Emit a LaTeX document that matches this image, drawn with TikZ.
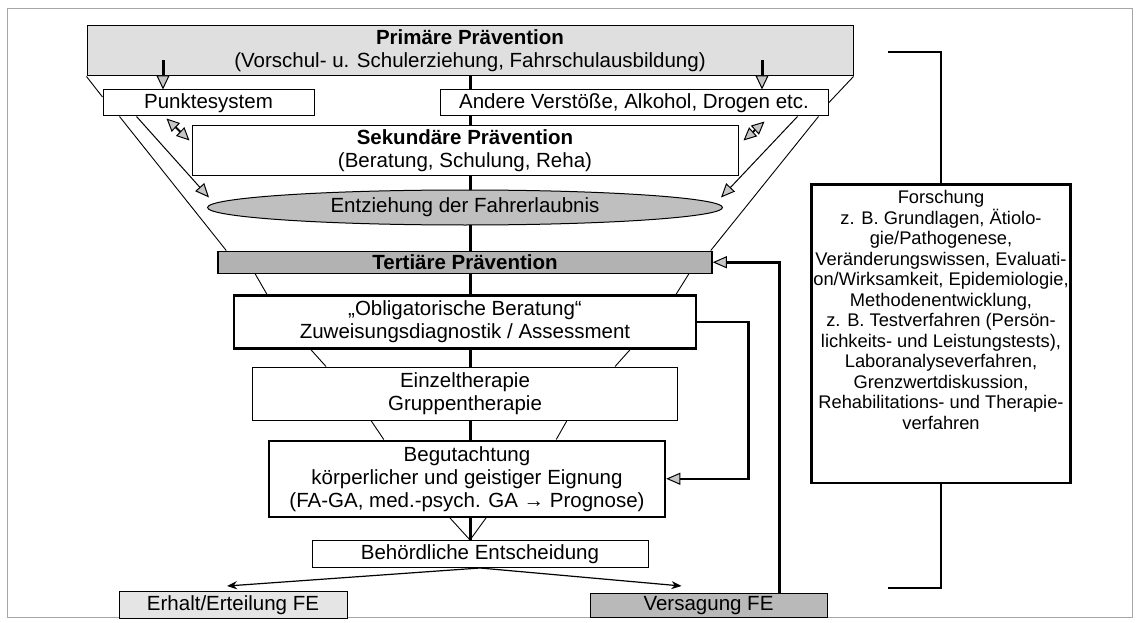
\documentclass[tikz,border=0pt]{standalone}
\usepackage{fontspec}
\setmainfont{Liberation Sans}
\usepackage{tikz}
\usetikzlibrary{shapes.geometric, arrows.meta, positioning, calc, backgrounds}
\newcommand{\boxfont}{\fontsize{20.5pt}{23pt}\selectfont}
\newcommand{\notefont}{\fontsize{18.3pt}{20.5pt}\selectfont}
\tikzstyle{plainbox} = [rectangle, draw=black, line width=1pt, fill=white, text centered, align=center, inner sep=2pt, font=\boxfont]
\tikzstyle{heavybox} = [plainbox, line width=2.5pt]
\tikzstyle{lightbox} = [plainbox, fill=gray!25]
\tikzstyle{darkbox} = [plainbox, fill=gray!60, line width=1.5pt]
\tikzstyle{oval} = [ellipse, draw=black, line width=1pt, fill=gray!50, inner sep=0pt, font=\boxfont]
\tikzstyle{funnel} = [line width=0.9pt]
\tikzstyle{axisline} = [line width=3pt]
\tikzstyle{garrow} = [line width=3pt, -{Triangle[length=14pt, width=13pt, fill=gray!45, line width=1pt]}]
\tikzstyle{dblarrow} = [line width=2pt, {Triangle[length=13pt, width=12pt, fill=gray!45, line width=1pt]}-{Triangle[length=13pt, width=12pt, fill=gray!45, line width=1pt]}]
\tikzstyle{ellarrow} = [line width=1pt, -{Triangle[length=14pt, width=12pt, fill=gray!45]}]
\tikzstyle{backarrow} = [line width=2.5pt, -{Triangle[length=14pt, width=12pt, fill=gray!45, line width=1pt]}]
\tikzstyle{decarrow} = [line width=1.2pt, -{Stealth[length=10pt, width=8pt]}]
\tikzstyle{bracket} = [line width=2.5pt]
\tikzstyle{frame} = [draw=gray!70, line width=0.8pt]

\begin{document}
\begin{tikzpicture}[x=1pt, y=-1pt]
    \useasboundingbox (0,0) rectangle (1138,623);
    \draw [frame] (7,8) rectangle (1132,617);

    \node (prim) [lightbox, minimum width=766pt, minimum height=50pt] at (470,51) {\textbf{Primäre Prävention}\\(Vorschul- u. Schulerziehung, Fahrschulausbildung)};
    \node (punkt) [plainbox, below=13pt of prim, xshift=-261.5pt, minimum width=211pt, minimum height=26pt] {Punktesystem};
    \node (andere) [plainbox, below=13pt of prim, xshift=164pt, minimum width=388pt, minimum height=26pt] {Andere Verstöße, Alkohol, Drogen etc.};
    \node (sek) [plainbox, below=49pt of prim, xshift=-5pt, minimum width=546pt, minimum height=49pt] {\textbf{Sekundäre Prävention}\\(Beratung, Schulung, Reha)};
    \node (ell) [oval, below=14pt of sek, minimum width=515pt, minimum height=35pt] {Entziehung der Fahrerlaubnis};
    \node (tert) [darkbox, below=25pt of ell, minimum width=494pt, minimum height=22pt] {\textbf{Tertiäre Prävention}};
    \node (oblig) [heavybox, below=20pt of tert, minimum width=462pt, minimum height=53pt] {„Obligatorische Beratung“\\Zuweisungsdiagnostik / Assessment};
    \node (einzel) [plainbox, below=17pt of oblig, minimum width=425pt, minimum height=53pt] {Einzeltherapie\\Gruppentherapie};
    \node (begut) [heavybox, below=19pt of einzel, xshift=2pt, minimum width=396pt, minimum height=76pt] {Begutachtung\\körperlicher und geistiger Eignung\\(FA-GA, med.-psych. GA → Prognose)};
    \node (behord) [plainbox, below=22pt of begut, xshift=13pt, minimum width=336pt, minimum height=27pt] {Behördliche Entscheidung};
    \node (erhalt) [plainbox, fill=gray!20, below=23pt of behord, xshift=-247pt, minimum width=228pt, minimum height=27pt] {Erhalt/Erteilung FE};
    \node (versag) [plainbox, fill=gray!55, below=25pt of behord, xshift=228.5pt, minimum width=237pt, minimum height=24pt] {Versagung FE};
    \node (forsch) [heavybox, font=\notefont, inner ysep=6pt, minimum width=258pt, anchor=north] at (941,183) {Forschung\\z. B. Grundlagen, Ätiolo-\\gie/Pathogenese,\\Veränderungswissen, Evaluati-\\on/Wirksamkeit, Epidemiologie,\\Methodenentwicklung,\\z. B. Testverfahren (Persön-\\lichkeits- und Leistungstests),\\Laboranalyseverfahren,\\Grenzwertdiskussion,\\Rehabilitations- und Therapie-\\verfahren\rule[-48pt]{0pt}{0pt}};

    \begin{scope}[on background layer]
        \draw [axisline] (prim.south) -- (prim.south |- behord.north);
    \end{scope}

    \coordinate (pdrop) at (163,60);
    \coordinate (adrop) at (762,60);
    \draw [garrow] (pdrop) -- (pdrop |- punkt.north);
    \draw [garrow] (adrop) -- (adrop |- andere.north);

    \draw [funnel] (prim.south west) -- ($(punkt.west)+(0,-6)$);
    \draw [funnel] (prim.south east) -- (andere.east);
    \draw [funnel] ($(punkt.south west)+(17,0)$) -- ($(tert.north west)+(9,0)$);
    \draw [funnel] ($(andere.south east)+(-10,0)$) -- ($(tert.north east)+(-2,0)$);
    \draw [ellarrow] ($(punkt.south west)+(34,0)$) -- ($(ell.west)+(2,-10)$);
    \draw [ellarrow] ($(andere.south east)+(-31,0)$) -- ($(ell.east)+(-2,-10)$);
    \draw [dblarrow] ($(punkt.south west)+(64,2)$) -- ($(sek.west)+(-2,-10)$);
    \draw [dblarrow] ($(andere.south west)+(325,5)$) -- ($(sek.east)+(5,-10)$);

    \draw [funnel] ($(tert.south west)+(38,0)$) -- ($(oblig.north west)+(34,0)$);
    \draw [funnel] ($(tert.south east)+(-24,0)$) -- ($(oblig.north east)+(-21,0)$);
    \draw [funnel] ($(oblig.south west)+(78,0)$) -- ($(einzel.north west)+(74,0)$);
    \draw [funnel] ($(oblig.south east)+(-67,0)$) -- ($(einzel.north east)+(-63,0)$);
    \draw [funnel] ($(einzel.south west)+(119,0)$) -- ($(begut.north west)+(116,0)$);
    \draw [funnel] ($(einzel.south east)+(-111,0)$) -- ($(begut.north east)+(-110,0)$);
    \draw [funnel] ($(begut.south)+(-17,0)$) -- ($(behord.north)+(-10,0)$);
    \draw [funnel] ($(begut.south)+(19,0)$) -- ($(behord.north)+(-10,0)$);

    \draw [decarrow] (behord.south) -- ([xshift=-6pt, yshift=5pt]erhalt.north);
    \draw [decarrow] (behord.south) -- ([xshift=-27pt, yshift=7pt]versag.north);

    \draw [backarrow] ([xshift=-48pt]versag.north east) |- (tert.east);
    \draw [backarrow] (oblig.east) -- ++(51,0) |- (begut.east);

    \coordinate (brtop) at (888,52);
    \coordinate (brbot) at (888,588);
    \draw [bracket] (brtop) -| (forsch.north);
    \draw [bracket] (forsch.south) |- (brbot);
\end{tikzpicture}
\end{document}
